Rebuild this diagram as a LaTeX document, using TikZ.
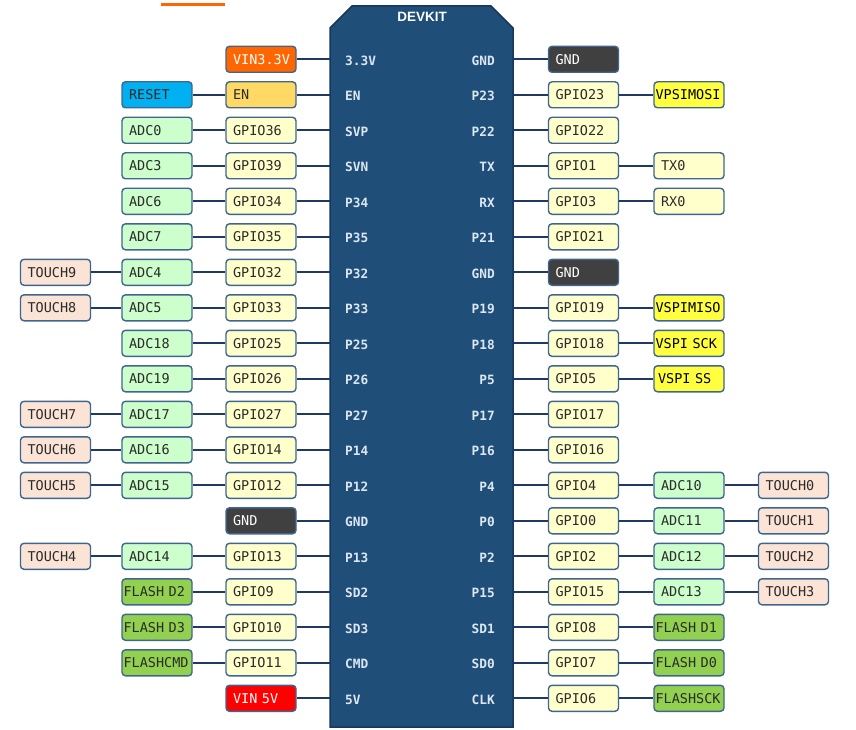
\documentclass[tikz,border=0pt]{standalone}
\usepackage{fontspec}
\setmonofont{DejaVu Sans Mono}
\newfontfamily\titlefont{Liberation Sans}
\newcommand\bxfont{\ttfamily\fontsize{13.5}{15}\selectfont}
\newcommand\pinfont{\ttfamily\bfseries\fontsize{12.8}{15}\selectfont}
\definecolor{boardc}{HTML}{1F4E79}
\definecolor{boardb}{HTML}{17375E}
\definecolor{bordc}{HTML}{3F6690}
\definecolor{connc}{HTML}{203864}
\definecolor{gpioc}{HTML}{FFFFCC}
\definecolor{adcc}{HTML}{CCFFCC}
\definecolor{tchc}{HTML}{FBE3D6}
\definecolor{gndc}{HTML}{404040}
\definecolor{vin3c}{HTML}{FF6600}
\definecolor{enc}{HTML}{FFD966}
\definecolor{resetc}{HTML}{00B0F0}
\definecolor{vspic}{HTML}{FFFF40}
\definecolor{flashc}{HTML}{92D050}
\definecolor{vin5c}{HTML}{FF0000}
\definecolor{txtc}{HTML}{2B2B2B}
\definecolor{pinc}{HTML}{DCE6F0}
\begin{document}
\begin{tikzpicture}[x=1pt,y=-1pt,
  box/.style={rounded corners=3.5pt, draw=bordc, line width=1.4pt,
    minimum height=26pt, text width=56pt, inner xsep=7pt, inner ysep=0pt,
    align=left, font=\bxfont, text height=9.8pt, text depth=0pt, text=txtc},
  wide/.style={text width=67pt, inner xsep=1.5pt},
  gp/.style={box, fill=gpioc},
  adc/.style={box, fill=adcc},
  tch/.style={box, fill=tchc},
  gnd/.style={box, fill=gndc, text=white},
  vin3/.style={box, fill=vin3c, text=white},
  vin5/.style={box, fill=vin5c, text=white},
  en/.style={box, fill=enc},
  reset/.style={box, fill=resetc},
  vspi/.style={box, fill=vspic, text width=62pt, inner xsep=4pt, text=black},
  vspiw/.style={box, fill=vspic, wide, text=black},
  flashw/.style={box, fill=flashc, wide},
  conn/.style={draw=connc, line width=1.8pt},
  board/.style={fill=boardc, draw=boardb, line width=1.5pt},
  pinl/.style={anchor=west, text=pinc, font=\pinfont, inner sep=0pt, text height=9.3pt, text depth=0pt},
  pinr/.style={anchor=east, text=pinc, font=\pinfont, inner sep=0pt, text height=9.3pt, text depth=0pt},
  title/.style={text=white, font=\titlefont\bfseries\fontsize{13.5}{15}\selectfont}
]
\useasboundingbox (0,0) rectangle (856,730);
\fill[white] (0,0) rectangle (856,730);
% decorative orange line
\draw[draw=vin3c, line width=3pt] (161,5) -- (225,5);
% board
\draw[board] (330,28) -- (352,6) -- (491,6) -- (513,28) -- (513,727) -- (330,727) -- cycle;
\coordinate (boardL) at (330,0);
\coordinate (boardR) at (513,0);
\node[title] (title) at (422,17) {DEVKIT};
% pin labels
\foreach \i/\t in {0/3.3V,1/EN,2/SVP,3/SVN,4/P34,5/P35,6/P32,7/P33,8/P25,9/P26,10/P27,11/P14,12/P12,13/GND,14/P13,15/SD2,16/SD3,17/CMD,18/5V}
  \node[pinl] (pl\i) at (345,{60.8+35.5*\i}) {\t};
\foreach \i/\t in {0/GND,1/P23,2/P22,3/TX,4/RX,5/P21,6/GND,7/P19,8/P18,9/P5,10/P17,11/P16,12/P4,13/P0,14/P2,15/P15,16/SD1,17/SD0,18/CLK}
  \node[pinr] (pr\i) at (495,{60.8+35.5*\i}) {\t};
% left column 1
\foreach \i/\t/\s in {0/VIN3.3V/vin3,1/EN/en,2/GPIO36/gp,3/GPIO39/gp,4/GPIO34/gp,5/GPIO35/gp,6/GPIO32/gp,7/GPIO33/gp,8/GPIO25/gp,9/GPIO26/gp,10/GPIO27/gp,11/GPIO14/gp,12/GPIO12/gp,13/GND/gnd,14/GPIO13/gp,15/GPIO9/gp,16/GPIO10/gp,17/GPIO11/gp,18/VIN 5V/vin5}
{
  \node[\s] (lg\i) at (261,{59.3+35.5*\i}) {\t};
  \draw[conn] (lg\i.east) -- (lg\i.east -| boardL);
}
% left column 2
\foreach \i/\t/\s in {1/RESET/reset,2/ADC0/adc,3/ADC3/adc,4/ADC6/adc,5/ADC7/adc,6/ADC4/adc,7/ADC5/adc,8/ADC18/adc,9/ADC19/adc,10/ADC17/adc,11/ADC16/adc,12/ADC15/adc,14/ADC14/adc,15/FLASH D2/flashw,16/FLASH D3/flashw,17/FLASHCMD/flashw}
{
  \node[\s] (la\i) at (157,{59.3+35.5*\i}) {\t};
  \draw[conn] (la\i.east) -- (lg\i.west);
}
% left column 3
\foreach \i/\t in {6/TOUCH9,7/TOUCH8,10/TOUCH7,11/TOUCH6,12/TOUCH5,14/TOUCH4}
{
  \node[tch] (lt\i) at (55.5,{59.3+35.5*\i}) {\t};
  \draw[conn] (lt\i.east) -- (la\i.west);
}
% right column 1
\foreach \i/\t/\s in {0/GND/gnd,1/GPIO23/gp,2/GPIO22/gp,3/GPIO1/gp,4/GPIO3/gp,5/GPIO21/gp,6/GND/gnd,7/GPIO19/gp,8/GPIO18/gp,9/GPIO5/gp,10/GPIO17/gp,11/GPIO16/gp,12/GPIO4/gp,13/GPIO0/gp,14/GPIO2/gp,15/GPIO15/gp,16/GPIO8/gp,17/GPIO7/gp,18/GPIO6/gp}
{
  \node[\s] (rg\i) at (583.5,{59.3+35.5*\i}) {\t};
  \draw[conn] (rg\i.west -| boardR) -- (rg\i.west);
}
% right column 2
\foreach \i/\t/\s in {1/VPSIMOSI/vspiw,3/TX0/gp,4/RX0/gp,7/VSPIMISO/vspiw,8/VSPI SCK/vspiw,9/VSPI SS/vspi,12/ADC10/adc,13/ADC11/adc,14/ADC12/adc,15/ADC13/adc,16/FLASH D1/flashw,17/FLASH D0/flashw,18/FLASHSCK/flashw}
{
  \node[\s] (ra\i) at (689,{59.3+35.5*\i}) {\t};
  \draw[conn] (rg\i.east) -- (ra\i.west);
}
% right column 3
\foreach \i/\t in {12/TOUCH0,13/TOUCH1,14/TOUCH2,15/TOUCH3}
{
  \node[tch] (rt\i) at (793.5,{59.3+35.5*\i}) {\t};
  \draw[conn] (ra\i.east) -- (rt\i.west);
}
\end{tikzpicture}
\end{document}
